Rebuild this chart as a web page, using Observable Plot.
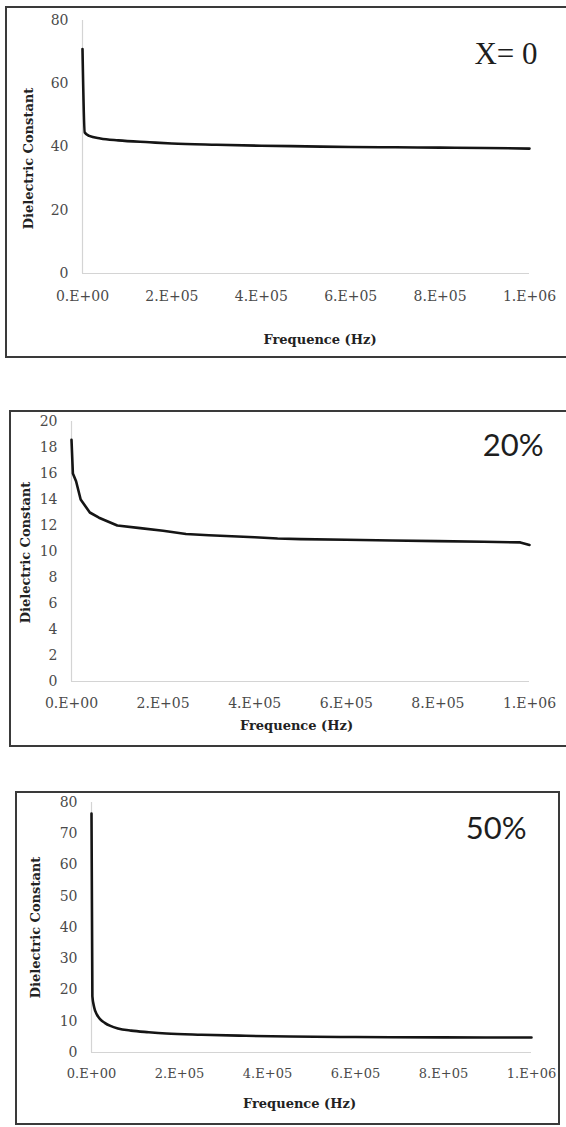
<!DOCTYPE html>
<html>
<head>
<meta charset="utf-8">
<script src="https://cdn.jsdelivr.net/npm/d3@7"></script>
<script src="https://cdn.jsdelivr.net/npm/@observablehq/plot@0.6"></script>
<style>
  html, body { margin: 0; padding: 0; background: #fff; overflow: hidden; }
  #wrap { position: relative; width: 566px; height: 1127px; overflow: hidden; background: #fff; }
  .box { position: absolute; box-sizing: border-box; border: 2px solid #3a3a3a; pointer-events: none; }
</style>
</head>
<body>
<div id="wrap"></div>
<script>
// ---- data ----
const xTicks = [0, 200000, 400000, 600000, 800000, 1000000];
const xTickLabels = ["0.E+00", "2.E+05", "4.E+05", "6.E+05", "8.E+05", "1.E+06"];
const xTitle = "Frequence (Hz)";
const yTitle = "Dielectric Constant";

// x = 0
const freq0 = [0, 5000, 15000, 40000, 80000, 150000, 200000, 300000, 400000, 500000, 600000, 700000, 800000, 900000, 1000000];
const eps0  = [71, 44.6, 43.5, 42.7, 42.1, 41.5, 41.1, 40.7, 40.4, 40.2, 40.0, 39.9, 39.8, 39.7, 39.5];
const yTicks0 = [0, 20, 40, 60, 80];
const label0 = "X= 0";

// 20 %
const freq20 = [0, 3000, 10000, 20000, 40000, 60000, 100000, 150000, 200000, 250000, 300000, 400000, 450000, 500000, 600000, 700000, 800000, 900000, 980000, 1000000];
const eps20  = [18.6, 16.0, 15.4, 14.0, 13.0, 12.6, 12.0, 11.8, 11.6, 11.35, 11.25, 11.1, 11.0, 10.95, 10.9, 10.85, 10.8, 10.75, 10.7, 10.5];
const yTicks20 = [0, 2, 4, 6, 8, 10, 12, 14, 16, 18, 20];
const label20 = "20%";

// 50 %
const freq50 = [0, 2000, 6000, 12000, 20000, 30000, 43000, 60000, 90000, 130000, 170000, 250000, 350000, 450000, 600000, 800000, 1000000];
const eps50  = [76.5, 18, 14.5, 12.2, 10.6, 9.5, 8.5, 7.7, 7.0, 6.5, 6.1, 5.7, 5.35, 5.1, 4.95, 4.85, 4.8];
const yTicks50 = [0, 10, 20, 30, 40, 50, 60, 70, 80];
const label50 = "50%";

// ---- layout ----
const panels = [
  { freq: freq0, eps: eps0, yTicks: yTicks0, yMax: 80, label: label0, labelFont: "Liberation Serif",
    box: {left: 5, top: 6, width: 600, height: 352},
    mt: 14, mb: 85, ml: 82, mr: 37, tickPad: 18, xFont: 14,
    xt: {dx: 14, dy: 66}, yt: {dx: -54, dy: 11.5}, ann: {dx: 8, dy: 34}, curve: "monotone-x" },
  { freq: freq20, eps: eps20, yTicks: yTicks20, yMax: 20, label: label20, labelFont: "Lato",
    box: {left: 9, top: 410, width: 600, height: 337},
    mt: 11, mb: 66, ml: 71, mr: 37, tickPad: 17, xFont: 14,
    xt: {dx: -4, dy: 44}, yt: {dx: -46, dy: 1}, ann: {dx: 14, dy: 25}, curve: "linear" },
  { freq: freq50, eps: eps50, yTicks: yTicks50, yMax: 80, label: label50, labelFont: "Lato",
    box: {left: 15, top: 791, width: 545, height: 334},
    mt: 11, mb: 73, ml: 91, mr: 35, tickPad: 16, xFont: 13,
    xt: {dx: -12, dy: 51}, yt: {dx: -56, dy: 0}, ann: {dx: -5, dy: 27}, curve: "monotone-x" }
];

const wrap = document.getElementById("wrap");

for (const p of panels) {
  const data = p.freq.map((f, i) => ({f, e: p.eps[i]}));
  const svg = Plot.plot({
    width: 566,
    height: p.box.height,
    marginTop: p.mt, marginBottom: p.mb, marginLeft: p.ml, marginRight: p.mr,
    style: {background: "transparent", fontFamily: "DejaVu Serif", fontSize: "14px", color: "#4a4a4a", overflow: "visible"},
    x: {domain: [0, 1000000], axis: null},
    y: {domain: [0, p.yMax], axis: null},
    marks: [
      Plot.ruleY([0], {stroke: "#d4d4d4", strokeWidth: 1.2}),
      Plot.ruleX([0], {stroke: "#d4d4d4", strokeWidth: 1.2}),
      Plot.axisX({ticks: xTicks, tickFormat: d => xTickLabels[xTicks.indexOf(d)], tickSize: 0, tickPadding: p.tickPad, label: null, fontSize: p.xFont}),
      Plot.axisY({ticks: p.yTicks, tickSize: 0, tickPadding: 14, label: null, fontSize: 14}),
      Plot.line(data, {x: "f", y: "e", stroke: "#151515", strokeWidth: 2.6, curve: p.curve}),
      Plot.text([xTitle], {text: d => d, frameAnchor: "bottom", textAnchor: "middle", lineAnchor: "middle", dx: p.xt.dx, dy: p.xt.dy, fontWeight: "bold", fontSize: 13, fill: "#222"}),
      Plot.text([yTitle], {text: d => d, frameAnchor: "left", textAnchor: "middle", lineAnchor: "middle", rotate: -90, dx: p.yt.dx, dy: p.yt.dy, fontWeight: "bold", fontSize: 13, fill: "#222"}),
      Plot.text([p.label], {text: d => d, frameAnchor: "top-right", textAnchor: "end", lineAnchor: "middle", dx: p.ann.dx, dy: p.ann.dy, fontFamily: p.labelFont, fontSize: 31, fill: "#1e1e1e"})
    ]
  });
  svg.style.position = "absolute";
  svg.style.left = "0px";
  svg.style.top = p.box.top + "px";
  svg.style.maxWidth = "none";
  wrap.appendChild(svg);
  const b = document.createElement("div");
  b.className = "box";
  b.style.left = p.box.left + "px";
  b.style.top = p.box.top + "px";
  b.style.width = p.box.width + "px";
  b.style.height = p.box.height + "px";
  wrap.appendChild(b);
}
</script>
</body>
</html>
